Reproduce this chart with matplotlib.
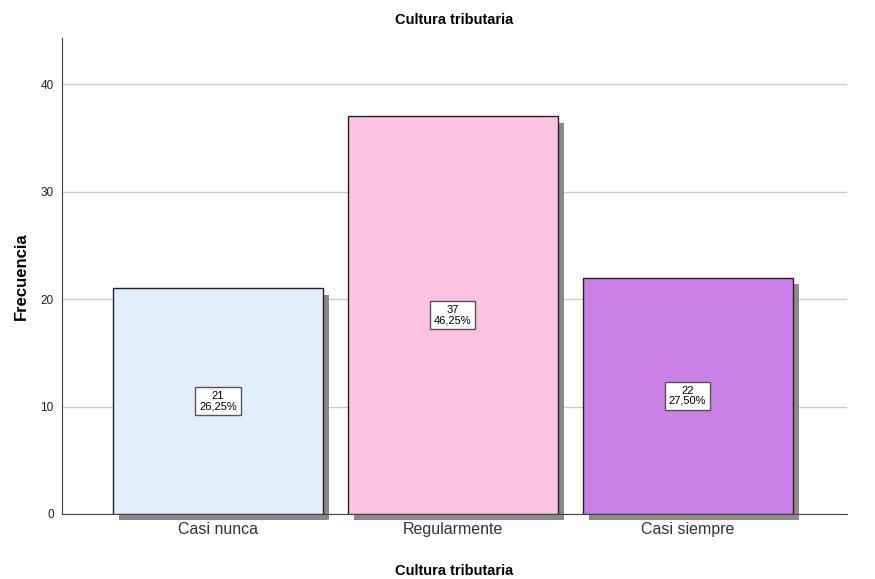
import matplotlib.pyplot as plt
import matplotlib.transforms as mtransforms
import numpy as np

plt.rcParams["font.family"] = ["Liberation Sans", "DejaVu Sans"]

categorias = ["Casi nunca", "Regularmente", "Casi siempre"]
frecuencias = [21, 37, 22]
porcentajes = ["26,25%", "46,25%", "27,50%"]
colores = ["#E2EEFB", "#FDC2E0", "#CB80E5"]

fig = plt.figure(figsize=(8.75, 5.79), dpi=100)
ax = fig.add_axes([62 / 875, 65 / 579, 785 / 875, 476 / 579])

x = np.arange(len(categorias))
ancho = 0.894

# sombra desplazada detras de cada barra
sombra = mtransforms.offset_copy(ax.transData, fig=fig, x=4.5, y=-4.5, units="points")
ax.bar(x, frecuencias, width=ancho, color="#8A8A8A", transform=sombra,
       zorder=2, clip_on=False)
ax.bar(x, frecuencias, width=ancho, color=colores, edgecolor="#222222",
       linewidth=1.0, zorder=3)

for xi, f, p in zip(x, frecuencias, porcentajes):
    ax.text(xi, f / 2, f"{f}\n{p}", ha="center", va="center", fontsize=8,
            linespacing=1.0, zorder=4,
            bbox=dict(boxstyle="square,pad=0.35", fc="white", ec="#555555", lw=1))

ax.set_xlim(-0.664, 2.679)
ax.set_ylim(0, 44.3)
ax.set_yticks([0, 10, 20, 30, 40])
ax.yaxis.grid(True, color="#CCCCCC", linewidth=1, zorder=0)
ax.set_axisbelow(True)
ax.set_xticks(x)
ax.set_xticklabels(categorias, fontsize=11.5, color="#333333")
ax.tick_params(axis="x", length=0, pad=6)
ax.tick_params(axis="y", length=0, labelsize=8.5, pad=6, labelcolor="#222222")
for s in ["top", "right"]:
    ax.spines[s].set_visible(False)
for s in ["left", "bottom"]:
    ax.spines[s].set_color("#444444")

ax.set_title("Cultura tributaria", fontsize=10.5, fontweight="bold", pad=10)
ax.set_xlabel("Cultura tributaria", fontsize=10.5, fontweight="bold", labelpad=19)
ax.set_ylabel("Frecuencia", fontsize=12, fontweight="bold", labelpad=8)

fig.savefig("out.png", dpi=100)
